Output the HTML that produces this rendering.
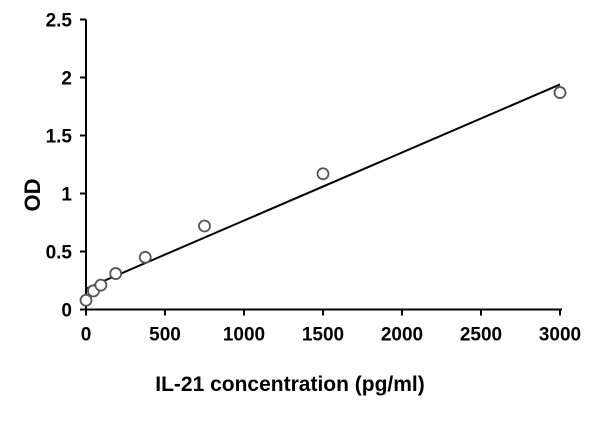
<!DOCTYPE html>
<html><head><meta charset="utf-8"><style>
body{margin:0;background:#fff;}
svg text{font-family:"Liberation Sans",Arial,sans-serif;font-weight:bold;fill:#000;}
</style></head><body>
<svg width="600" height="421">
<g id="axes"></g><g id="marks"></g>
<text x="290" y="391" font-size="21" text-anchor="middle">IL-21 concentration (pg/ml)</text>
<text transform="translate(40,195) rotate(-90)" font-size="22" text-anchor="middle">OD</text>
</svg>
<script>
const xTicks=[0,500,1000,1500,2000,2500,3000];
const yTicks=[0,0.5,1,1.5,2,2.5];
const yTickLabels=["0","0.5","1","1.5","2","2.5"];
const concentrations=[0,47,94,188,375,750,1500,3000];
const odValues=[0.08,0.16,0.21,0.31,0.45,0.72,1.17,1.87];
const fitIntercept=0.18;
const fitSlope=(1.94-0.18)/3000;
const X=v=>86+v*(474/3000);
const Y=v=>309.5-v*(290/2.5);
const ns="http://www.w3.org/2000/svg";
function mk(tag,attrs,parent){const e=document.createElementNS(ns,tag);for(const k in attrs)e.setAttribute(k,attrs[k]);parent.appendChild(e);return e;}
const ax=document.getElementById('axes'),mg=document.getElementById('marks');
let l=mk('line',{x1:X(0)-6,y1:Y(0),x2:X(3000)+2,y2:Y(0),stroke:'#000','stroke-width':2},ax);


l=mk('line',{x1:X(0),y1:Y(0),x2:X(0),y2:Y(2.5),stroke:'#000','stroke-width':2},ax);


xTicks.forEach(t=>{
 let tk=mk('line',{x1:X(t),y1:Y(0),x2:X(t),y2:Y(0)+6,stroke:'#000','stroke-width':2},ax);
 
 
 let tx=mk('text',{x:X(t),y:Y(0)+31,'font-size':19,'text-anchor':'middle'},ax);tx.textContent=t;
 
 
});
yTicks.forEach((t,i)=>{
 let tk=mk('line',{x1:X(0)-6,y1:Y(t),x2:X(0),y2:Y(t),stroke:'#000','stroke-width':2},ax);
 
 
 let tx=mk('text',{x:X(0)-14,y:Y(t)+7,'font-size':19,'text-anchor':'end'},ax);tx.textContent=yTickLabels[i];
 
 
});
let fl=mk('line',{x1:X(0),y1:Y(fitIntercept),x2:X(3000),y2:Y(fitIntercept+fitSlope*3000),stroke:'#000','stroke-width':2},mg);


concentrations.forEach((c,i)=>{
 let p=mk('circle',{cx:X(c),cy:Y(odValues[i]),r:5.5,fill:'#fff',stroke:'#555','stroke-width':1.8},mg);
 
 
});
</script>
</body></html>
